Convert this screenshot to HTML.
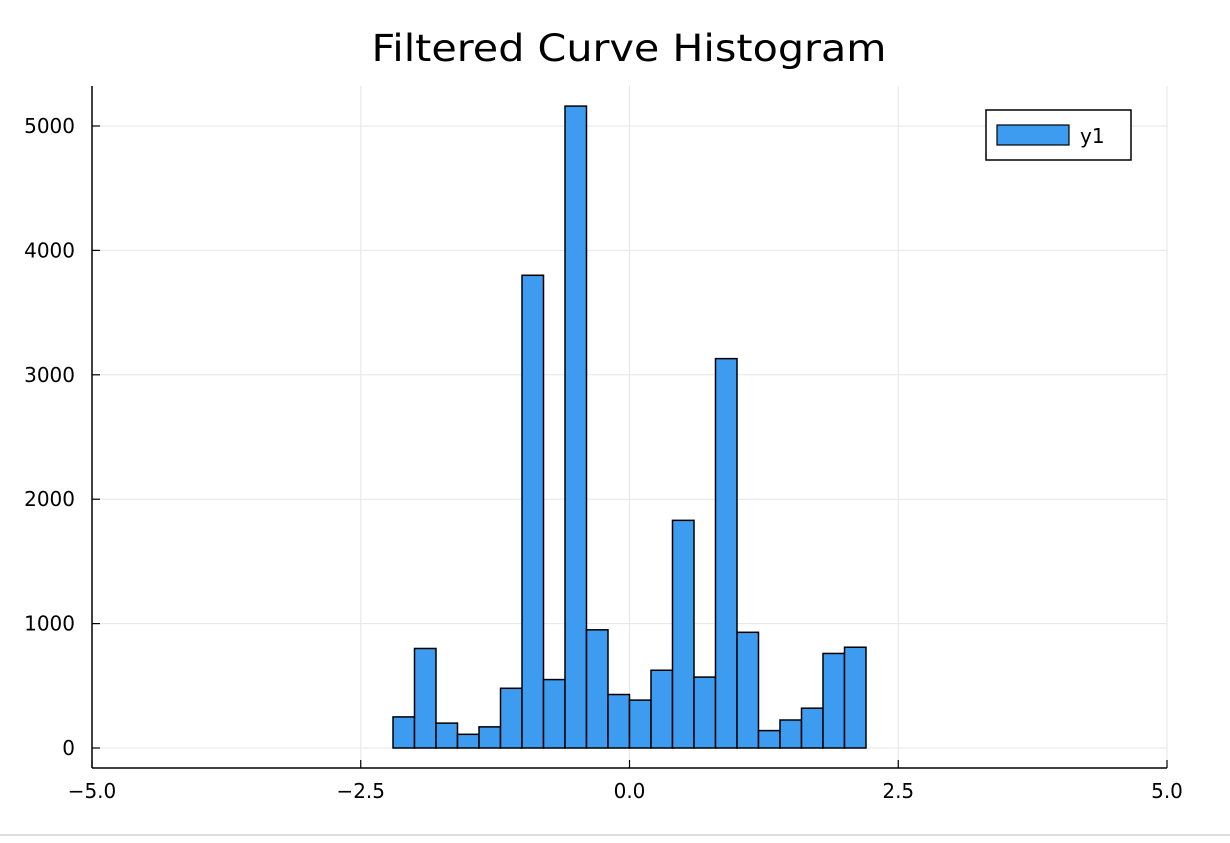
<!DOCTYPE html>
<html><head><meta charset="utf-8"><style>
body{margin:0;background:#fff;}
svg text{font-family:"DejaVu Sans",sans-serif;}
</style></head><body>
<svg width="1230" height="838" id="chart">
<text x="629" y="61" font-size="37" text-anchor="middle" textLength="515" lengthAdjust="spacingAndGlyphs">Filtered Curve Histogram</text>
<g id="grid"></g>
<g id="bars"></g>
<line x1="92" y1="86" x2="92" y2="768" stroke="#000" stroke-width="1.5"/>
<line x1="92" y1="768" x2="1167" y2="768" stroke="#000" stroke-width="1.5"/>
<g id="ticks"></g>
<g>
<rect x="986" y="110" width="145" height="50" fill="#fff" stroke="#000" stroke-width="1.5"/>
<rect x="997" y="125" width="72" height="20" fill="#3d9bf0" stroke="#000" stroke-width="1.2"/>
<text x="1080" y="143" font-size="20">y1</text>
</g>
<line x1="0" y1="835" x2="1230" y2="835" stroke="#ddd" stroke-width="2"/>
</svg>
<script>
const binStart = -2.2;
const binWidth = 0.2;
const counts = [250,800,200,110,170,480,3800,550,5160,950,430,385,625,1830,570,3130,930,140,225,320,760,810];
const xTicks = [-5,-2.5,0,2.5,5];
const xTickLabels = ["\u22125.0","\u22122.5","0.0","2.5","5.0"];
const yTicks = [0,1000,2000,3000,4000,5000];
const yTickLabels = ["0","1000","2000","3000","4000","5000"];
const NS="http://www.w3.org/2000/svg";
const X=v=>629.5+v*107.5;
const Y=v=>748-v*0.1244;
function mk(t,a,p){const e=document.createElementNS(NS,t);for(const k in a)e.setAttribute(k,a[k]);p.appendChild(e);return e;}
const grid=document.getElementById('grid'),bars=document.getElementById('bars'),ticks=document.getElementById('ticks');
xTicks.forEach((t,i)=>{
 const g=mk('line',{x1:X(t),x2:X(t),y1:86,y2:768,stroke:'#e6e6e6','stroke-width':1},grid);
 
 
 const tk=mk('line',{x1:X(t),x2:X(t),y1:768,y2:760,stroke:'#000','stroke-width':1.2},ticks);
 
 
 const tx=mk('text',{x:X(t),y:798,'font-size':20,'text-anchor':'middle'},ticks);
 tx.textContent=xTickLabels[i];
 
 
});
yTicks.forEach((t,i)=>{
 const g=mk('line',{x1:92,x2:1167,y1:Y(t),y2:Y(t),stroke:'#e6e6e6','stroke-width':1},grid);
 
 
 const tk=mk('line',{x1:92,x2:100,y1:Y(t),y2:Y(t),stroke:'#000','stroke-width':1.2},ticks);
 
 
 const tx=mk('text',{x:75,y:Y(t)+7,'font-size':20,'text-anchor':'end'},ticks);
 tx.textContent=yTickLabels[i];
 
 
});
counts.forEach((c,i)=>{
 const x0=X(binStart+i*binWidth),x1=X(binStart+(i+1)*binWidth);
 const r=mk('rect',{x:x0,y:Y(c),width:x1-x0,height:Y(0)-Y(c),fill:'#3d9bf0',stroke:'#000','stroke-width':1.5},bars);
 
 
});
</script>
</body></html>
